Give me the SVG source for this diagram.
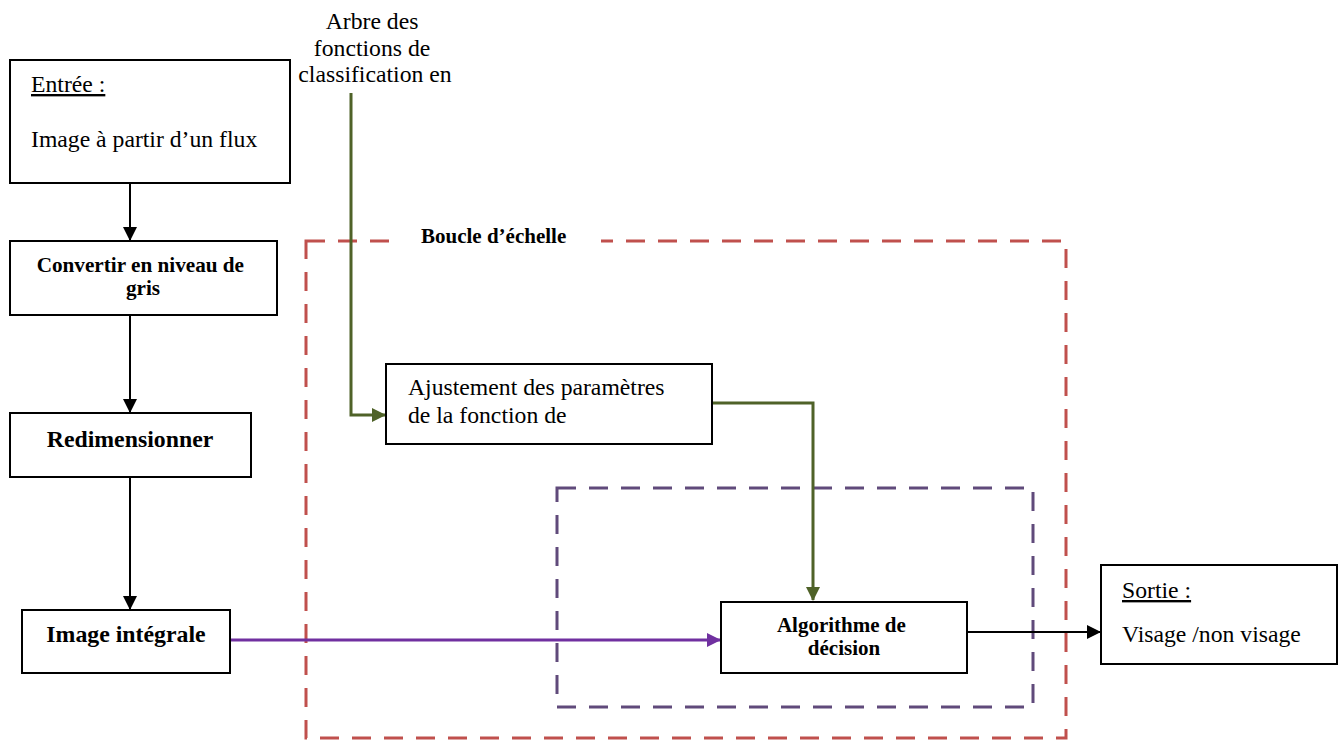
<svg xmlns="http://www.w3.org/2000/svg" width="1343" height="740" viewBox="0 0 1343 740">
  <style>
    .box { fill: #ffffff; stroke: #000000; stroke-width: 2; }
    .txt { font-family: "Liberation Serif", "Times New Roman", serif; fill: #000000; }
    .reg { font-size: 23.7px; }
    .bold { font-weight: bold; }
    .ul { text-decoration: underline; }
    .flow { fill: none; stroke: #000000; stroke-width: 2; }
    .green { fill: none; stroke: #4F6228; stroke-width: 3; }
    .purple { fill: none; stroke: #7030A0; stroke-width: 3; }
    .loop-red { fill: none; stroke: #C0504D; stroke-width: 3; stroke-dasharray: 19 13; }
    .loop-violet { fill: none; stroke: #604A7B; stroke-width: 3; stroke-dasharray: 19 13; }
  </style>
  <defs>
    <marker id="arrowBlack" markerWidth="14" markerHeight="14" refX="13" refY="7" orient="auto" markerUnits="userSpaceOnUse">
      <path d="M0,0 L14,7 L0,14 Z" fill="#000000"/>
    </marker>
    <marker id="arrowGreen" markerWidth="14" markerHeight="14" refX="13" refY="7" orient="auto" markerUnits="userSpaceOnUse">
      <path d="M0,0 L14,7 L0,14 Z" fill="#4F6228"/>
    </marker>
    <marker id="arrowPurple" markerWidth="14" markerHeight="14" refX="13" refY="7" orient="auto" markerUnits="userSpaceOnUse">
      <path d="M0,0 L14,7 L0,14 Z" fill="#7030A0"/>
    </marker>
  </defs>

  <rect width="1343" height="740" fill="#ffffff"/>

  <!-- scale loop and inner decision loop -->
  <g id="scale-loop">
    <rect class="loop-red" x="306" y="241" width="760" height="497"/>
    <rect x="395" y="228" width="206" height="24" fill="#ffffff"/>
    <text class="txt bold" x="421" y="243" font-size="21">Boucle d’échelle</text>
  </g>
  <g id="decision-loop">
    <rect class="loop-violet" x="557" y="488" width="476" height="219"/>
  </g>

  <!-- free-standing label feeding the loop -->
  <g id="classifier-tree">
    <text class="txt reg" text-anchor="middle">
      <tspan x="375" y="29">Arbre des</tspan>
      <tspan x="375" y="56">fonctions de</tspan>
      <tspan x="375" y="82">classification en</tspan>
    </text>
  </g>

  <!-- connectors -->
  <g id="connectors">
    <line class="flow" x1="130" y1="183" x2="130" y2="240" marker-end="url(#arrowBlack)"/>
    <line class="flow" x1="130" y1="315" x2="130" y2="412" marker-end="url(#arrowBlack)"/>
    <line class="flow" x1="130" y1="477" x2="130" y2="609" marker-end="url(#arrowBlack)"/>
    <polyline class="green" points="351,93 351,415 385,415" marker-end="url(#arrowGreen)"/>
    <polyline class="green" points="712,403 813,403 813,600" marker-end="url(#arrowGreen)"/>
    <line class="purple" x1="230" y1="640" x2="720" y2="640" marker-end="url(#arrowPurple)"/>
    <line class="flow" x1="967" y1="632" x2="1100" y2="632" marker-end="url(#arrowBlack)"/>
  </g>

  <g id="input">
    <rect class="box" x="10" y="60" width="280" height="123"/>
    <text class="txt reg ul" x="31" y="92">Entrée :</text>
    <text class="txt reg" x="31" y="147">Image à partir d’un flux</text>
  </g>

  <g id="grayscale">
    <rect class="box" x="10" y="241" width="267" height="74"/>
    <text class="txt bold" font-size="21.2" text-anchor="middle">
      <tspan x="143" y="272">Convertir en niveau de</tspan>
      <tspan x="143" y="295">gris</tspan>
    </text>
  </g>

  <g id="resize">
    <rect class="box" x="10" y="413" width="241" height="64"/>
    <text class="txt bold" x="130" y="447" font-size="23.8" text-anchor="middle">Redimensionner</text>
  </g>

  <g id="integral-image">
    <rect class="box" x="22" y="610" width="208" height="63"/>
    <text class="txt bold" x="126" y="642" font-size="23.8" text-anchor="middle">Image intégrale</text>
  </g>

  <g id="parameter-adjust">
    <rect class="box" x="386" y="364" width="326" height="80"/>
    <text class="txt reg" x="408" y="395">Ajustement des paramètres</text>
    <text class="txt reg" x="408" y="423">de la fonction de</text>
  </g>

  <g id="decision">
    <rect class="box" x="721" y="602" width="246" height="71"/>
    <text class="txt bold" font-size="21" text-anchor="middle">
      <tspan x="844" y="632">Algorithme de</tspan>
      <tspan x="844" y="655">décision</tspan>
    </text>
  </g>

  <g id="output">
    <rect class="box" x="1101" y="565" width="236" height="99"/>
    <text class="txt reg ul" x="1122" y="598">Sortie :</text>
    <text class="txt reg" x="1122" y="642">Visage /non visage</text>
  </g>
</svg>
